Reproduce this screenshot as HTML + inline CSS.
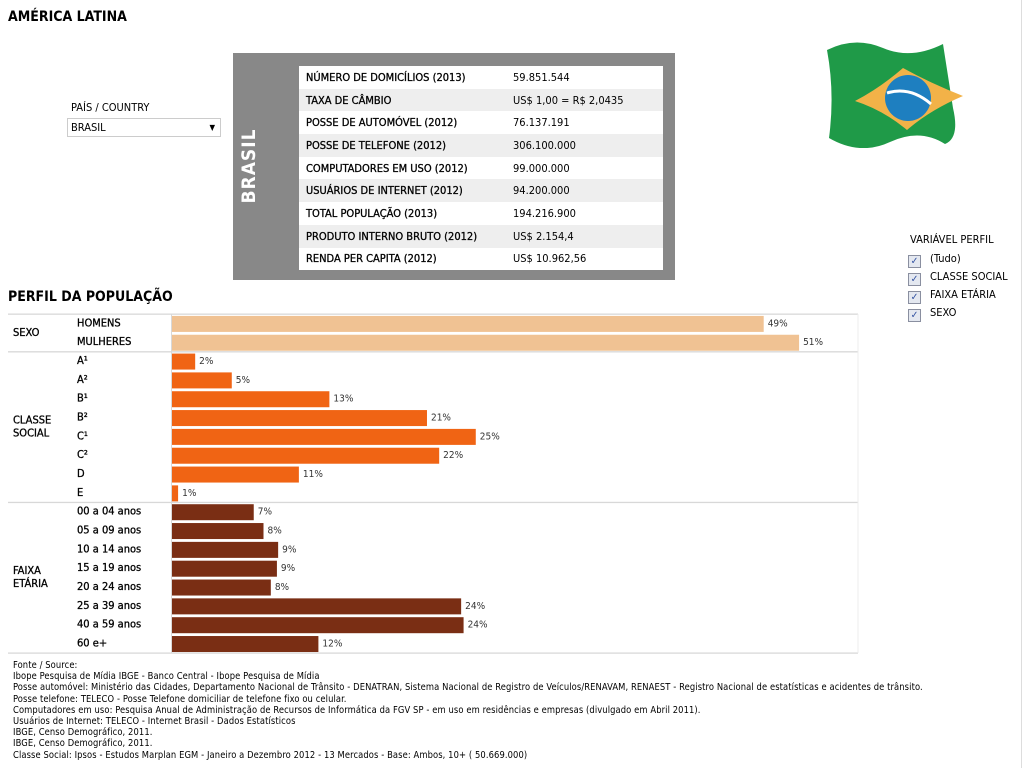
<!DOCTYPE html>
<html><head><meta charset="utf-8">
<style>
body{margin:0;width:1024px;height:768px;background:#fff;font-family:"DejaVu Sans Condensed","Liberation Sans",sans-serif;color:#000;position:relative;overflow:hidden}
.a{position:absolute;white-space:nowrap}
.t{font-size:11px}
#info td{font-size:11px;height:22.7px;padding:0 0 0 7px;white-space:nowrap}
#info td:first-child{-webkit-text-stroke:0.3px #000}
#info tr:nth-child(even){background:#eeeeee}
.cb{display:inline-block;width:11px;height:11px;border:1px solid #8a8fa0;background:#e4e8f0;vertical-align:-2px;margin-right:9px;font-size:10px;line-height:11px;text-align:center;color:#3050a0}
.ft{font-size:9.3px;line-height:11.2px;letter-spacing:0.1px}
</style></head><body>
<div class="a" style="left:8px;top:9px;font-size:14px;font-weight:bold">AMÉRICA LATINA</div>
<div class="a t" style="left:71px;top:101px">PAÍS / COUNTRY</div>
<div class="a" style="left:67px;top:118px;width:154px;height:19px;border:1px solid #ccc;font-size:11px;line-height:18px;box-sizing:border-box;padding-left:3px">BRASIL<span style="position:absolute;right:5px;top:0;font-size:8px">▼</span></div>

<div class="a" style="left:233px;top:53px;width:442px;height:227px;background:#888"></div>
<div class="a" style="left:249px;top:166px;transform:translate(-50%,-50%) rotate(-90deg);color:#fff;font-size:19px;font-weight:bold;letter-spacing:1px">BRASIL</div>
<table id="info" class="a" style="left:299px;top:66px;width:364px;border-collapse:collapse;background:#fff">
<tr><td style="width:200px">NÚMERO DE DOMICÍLIOS (2013)</td><td>59.851.544</td></tr>
<tr><td>TAXA DE CÂMBIO</td><td>US$ 1,00 = R$ 2,0435</td></tr>
<tr><td>POSSE DE AUTOMÓVEL (2012)</td><td>76.137.191</td></tr>
<tr><td>POSSE DE TELEFONE (2012)</td><td>306.100.000</td></tr>
<tr><td>COMPUTADORES EM USO (2012)</td><td>99.000.000</td></tr>
<tr><td>USUÁRIOS DE INTERNET (2012)</td><td>94.200.000</td></tr>
<tr><td>TOTAL POPULAÇÃO (2013)</td><td>194.216.900</td></tr>
<tr><td>PRODUTO INTERNO BRUTO (2012)</td><td>US$ 2.154,4</td></tr>
<tr><td>RENDA PER CAPITA (2012)</td><td>US$ 10.962,56</td></tr>
</table>

<svg class="a" style="left:825px;top:38px" width="140" height="110">
<path d="M2,12 Q30,-2 58,10 T118,6 L128,70 Q135,100 120,106 Q95,90 65,104 T4,100 Q10,55 2,12Z" fill="#1f9a48"/>
<path d="M30,63 Q55,50 78,30 Q105,45 138,58 Q105,72 82,92 Q58,72 30,63Z" fill="#f2b248"/>
<circle cx="83" cy="60" r="23" fill="#1e7fc0"/>
<path d="M62,55 Q85,48 106,66" stroke="#fff" stroke-width="3" fill="none"/>
</svg>

<div class="a t" style="left:910px;top:233px">VARIÁVEL PERFIL</div>
<div class="a t" style="left:908px;top:252px"><span class="cb">✓</span>(Tudo)</div>
<div class="a t" style="left:908px;top:270px"><span class="cb">✓</span>CLASSE SOCIAL</div>
<div class="a t" style="left:908px;top:288px"><span class="cb">✓</span>FAIXA ETÁRIA</div>
<div class="a t" style="left:908px;top:306px"><span class="cb">✓</span>SEXO</div>
<div class="a" style="left:1021px;top:0;width:1px;height:768px;background:#ddd"></div>

<div class="a" style="left:8px;top:289px;font-size:14px;font-weight:bold">PERFIL DA POPULAÇÃO</div>
<svg id="chart" class="a" style="left:0;top:0" width="1024" height="768"></svg>

<div class="a ft" style="left:13px;top:660px">Fonte / Source:<br>Ibope Pesquisa de Mídia IBGE - Banco Central - Ibope Pesquisa de Mídia<br>Posse automóvel: Ministério das Cidades, Departamento Nacional de Trânsito - DENATRAN, Sistema Nacional de Registro de Veículos/RENAVAM, RENAEST - Registro Nacional de estatísticas e acidentes de trânsito.<br>Posse telefone: TELECO - Posse Telefone domiciliar de telefone fixo ou celular.<br>Computadores em uso: Pesquisa Anual de Administração de Recursos de Informática da FGV SP - em uso em residências e empresas (divulgado em Abril 2011).<br>Usuários de Internet: TELECO - Internet Brasil - Dados Estatísticos<br>IBGE, Censo Demográfico, 2011.<br>IBGE, Censo Demográfico, 2011.<br>Classe Social: Ipsos - Estudos Marplan EGM - Janeiro a Dezembro 2012 - 13 Mercados - Base: Ambos, 10+ ( 50.669.000)</div>

<script>
const groups=["SEXO","CLASSE\nSOCIAL","FAIXA\nETÁRIA"];
const groupColors=["#f0c293","#f06414","#7a2e14"];
const categories=["HOMENS","MULHERES","A¹","A²","B¹","B²","C¹","C²","D","E","00 a 04 anos","05 a 09 anos","10 a 14 anos","15 a 19 anos","20 a 24 anos","25 a 39 anos","40 a 59 anos","60 e+"];
const groupOf=[0,0,1,1,1,1,1,1,1,1,2,2,2,2,2,2,2,2];
const values=[48.5,51.4,1.9,4.9,12.9,20.9,24.9,21.9,10.4,0.5,6.7,7.5,8.7,8.6,8.1,23.7,23.9,12.0];
const labels=["49%","51%","2%","5%","13%","21%","25%","22%","11%","1%","7%","8%","9%","9%","8%","24%","24%","12%"];
const svg=document.getElementById('chart');const NS='http://www.w3.org/2000/svg';
const x0=172,pxPer=12.2,top0=314,rowH=18.83,barH=16;
const x=v=>x0+v*pxPer;const y=i=>top0+i*rowH;
function mk(t,a){const e=document.createElementNS(NS,t);for(const k in a)e.setAttribute(k,a[k]);svg.appendChild(e);return e;}
const gridC='#d8d8d8';
let starts=[];groupOf.forEach((g,i)=>{if(i===0||groupOf[i-1]!==g)starts.push(i);});
starts.concat([categories.length]).forEach(i=>{
const l=mk('rect',{x:8,y:y(i)-0.5,width:850,height:1.3,fill:gridC});


});
const vl=mk('rect',{x:171,y:top0,width:1,height:categories.length*rowH,fill:gridC});


const rl=mk('rect',{x:857.5,y:top0,width:1,height:categories.length*rowH,fill:'#ececec'});


starts.forEach((s,gi)=>{
const e=groupOf.filter(g=>g===gi).length;const cy=y(s)+e*rowH/2;
const lines=groups[gi].split('\n');
lines.forEach((ln,k)=>{const t=mk('text',{x:13,y:cy+3+(k-(lines.length-1)/2)*13,'font-size':11,stroke:'#000','stroke-width':0.3});t.textContent=ln;

});
});
categories.forEach((c,i)=>{
const t=mk('text',{x:77,y:y(i)+rowH/2+3,'font-size':11,stroke:'#000','stroke-width':0.3});t.textContent=c;


const b=mk('rect',{x:x0,y:y(i)+(rowH-barH)/2+0.5,width:x(values[i])-x0,height:barH,fill:groupColors[groupOf[i]]});


const v=mk('text',{x:x(values[i])+4,y:y(i)+rowH/2+3,'font-size':10,fill:'#333'});v.textContent=labels[i];


});
</script>
</body></html>
